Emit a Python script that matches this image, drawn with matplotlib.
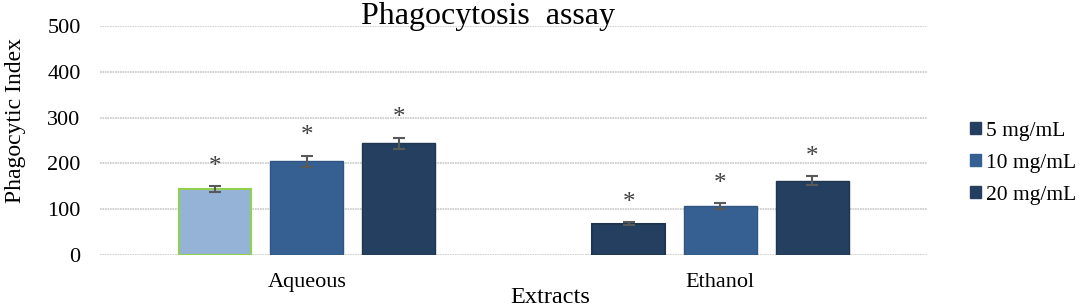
import matplotlib.pyplot as plt
import numpy as np

# data
extracts = ['Aqueous', 'Ethanol']
series = ['5 mg/mL', '10 mg/mL', '20 mg/mL']
values = [[144, 68], [205, 107], [244, 162]]
errors = [[7, 3], [12, 6], [12, 10]]

dark = '#243F60'
mid = '#376092'
light = '#95B3D7'
legend_colors = [dark, mid, dark]
# first aqueous bar is drawn light with a green outline in the original
face = [[light, dark], [mid, mid], [dark, dark]]
edge = [['#92D050', '#1F3550'], ['#2F5580', '#2F5580'], ['#1F3550', '#1F3550']]

plt.rcParams['font.family'] = ['Liberation Serif', 'DejaVu Serif']

fig = plt.figure(figsize=(10.84, 3.08), dpi=100)
ax = fig.add_axes([0.0923, 0.172, 0.763, 0.744])

x = np.arange(len(extracts))
w = 0.176
step = 0.222
for i, s in enumerate(series):
    pos = x + (i - 1) * step
    ax.bar(pos, values[i], width=w, color=face[i], edgecolor=edge[i],
           linewidth=1.5 if i == 0 else 1.0, label=s, zorder=3)
    ax.errorbar(pos, values[i], yerr=errors[i], fmt='none', ecolor='#595959',
                elinewidth=1.5, capsize=4, capthick=1.5, zorder=4)
    for p, v, e in zip(pos, values[i], errors[i]):
        ax.text(p, v + e + 42, '*', ha='center', va='center', fontsize=18,
                color='#404040')

ax.set_xlim(-0.5, 1.5)
ax.set_ylim(0, 500)
ax.set_yticks(range(0, 501, 100))
ax.set_xticks(x)
ax.set_xticklabels(extracts)
ax.tick_params(axis='both', length=0, labelsize=16)
ax.tick_params(axis='y', pad=14)
ax.tick_params(axis='x', pad=13)
ax.yaxis.grid(True, color='#C8C8C8', linestyle=(0, (1, 0.5)), linewidth=1.2, zorder=0)
for sp in ax.spines.values():
    sp.set_visible(False)

fig.text(0.45, 0.945, 'Phagocytosis  assay', fontsize=23, ha='center', va='center')
fig.text(0.014, 0.61, 'Phagocytic Index', fontsize=17, rotation=90,
         ha='center', va='center')
fig.text(0.508, 0.035, 'Extracts', fontsize=17.5, ha='center', va='center')

handles = [plt.Rectangle((0, 0), 1, 1, color=c) for c in legend_colors]
fig.legend(handles, series, loc='center left', bbox_to_anchor=(0.895, 0.47),
           frameon=False, fontsize=15.5, handlelength=0.5, handleheight=0.5,
           handletextpad=0.25, labelspacing=0.6, borderpad=0, borderaxespad=0)

fig.savefig('out.png', dpi=100)
